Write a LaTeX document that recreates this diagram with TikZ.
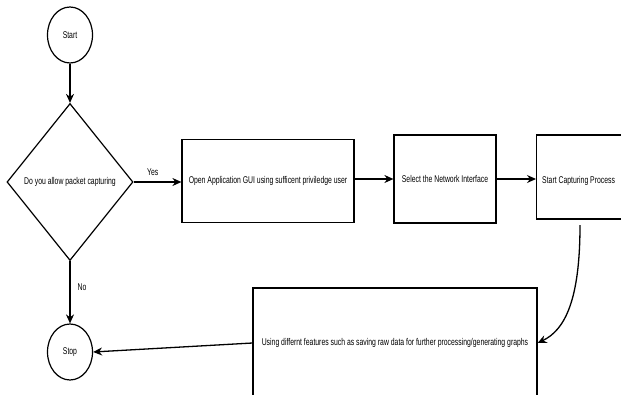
\documentclass[tikz,border=0pt]{standalone}
\usepackage{fontspec}
\setmainfont[FakeStretch=0.7]{Liberation Sans}
\usetikzlibrary{arrows.meta,shapes.geometric}
\begin{document}
\begin{tikzpicture}[x=1pt,y=-1pt,
  every node/.style={font=\fontsize{9.8}{11}\selectfont, inner sep=0pt},
  term/.style={draw, ellipse, line width=1.2pt, minimum width=45pt, minimum height=56pt},
  dec/.style={draw, diamond, line width=1.2pt, minimum width=126pt, minimum height=157pt},
  proc/.style={draw, rectangle, line width=1.2pt},
  arr/.style={-{Stealth[length=9pt,width=8pt]}, line width=1.3pt},
  lbl/.style={font=\fontsize{9.8}{11}\selectfont}]
\useasboundingbox (0,0) rectangle (621,394);
\clip (0,0) rectangle (621,394);
\node[term] (start) at (70,35) {Start};
\node[dec] (dec) at (70,182) {Do you allow packet capturing};
\node[term] (stop) at (70,352) {Stop};
\node[proc, minimum width=172pt, minimum height=83pt] (open) at (268,181) {Open Application GUI using sufficent priviledge user};
\node[proc, minimum width=102pt, minimum height=88pt] (sel) at (445,179) {Select the Network Interface};
\node[proc, minimum width=90pt, minimum height=84pt, anchor=west] (cap) at (536,177) {};
\node[anchor=west] (captxt) at (542,181) {Start Capturing Process};
\node[proc, minimum width=284pt, minimum height=110pt] (use) at (395,343) {Using differnt features such as saving raw data for further processing/generating graphs};
\draw[arr] (start) -- (dec.north);
\draw[arr] (dec.east) -- (open.west |- dec.east) node[pos=0.4, above=6pt, lbl] (yes) {Yes};
\draw[arr] (dec.south) -- (stop.north) node[pos=0.42, right=7pt, lbl] (no) {No};
\draw[arr] (open.east |- sel.west) -- (sel.west);
\draw[arr] (sel.east) -- (cap.west |- sel.east);
\coordinate (cs) at (580,225);
\draw[arr] (cs) .. controls (580,300) and (565,330) .. (use.east);
\draw[arr] (use.west) -- (stop.east);
\end{tikzpicture}
\end{document}
